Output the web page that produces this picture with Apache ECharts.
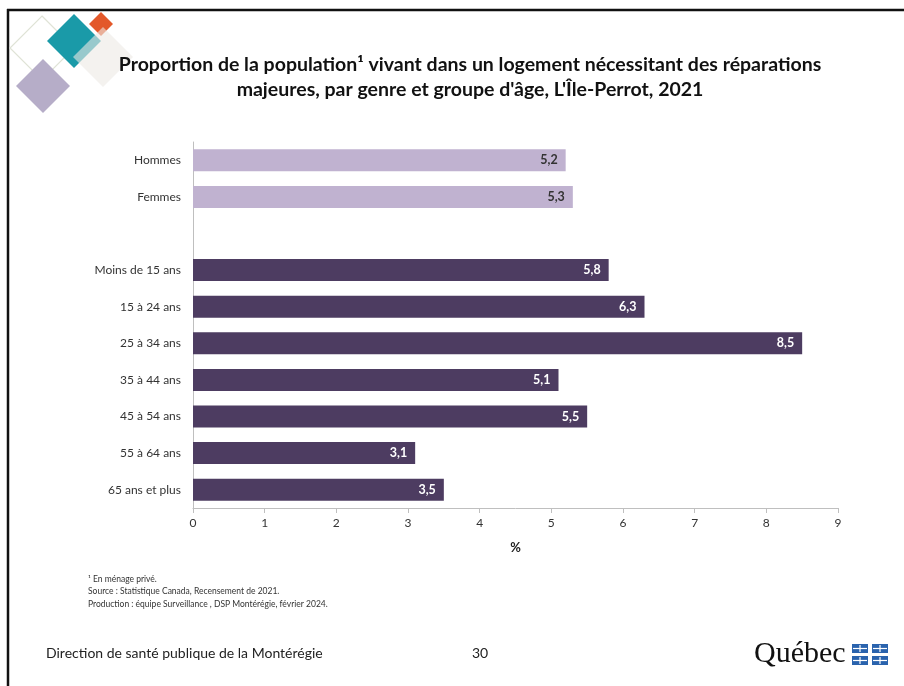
<!DOCTYPE html>
<html><head><meta charset="utf-8">
<script src="https://cdn.jsdelivr.net/npm/echarts@6/dist/echarts.min.js"></script>
<style>html,body{margin:0;padding:0;background:#fff}#c{width:904px;height:686px}</style>
</head><body><div id="c"></div>
<script>
const categories = ['Hommes','Femmes','','Moins de 15 ans','15 à 24 ans','25 à 34 ans','35 à 44 ans','45 à 54 ans','55 à 64 ans','65 ans et plus'];
const values = [5.2, 5.3, null, 5.8, 6.3, 8.5, 5.1, 5.5, 3.1, 3.5];
const groups = ['genre','genre','','age','age','age','age','age','age','age'];
const xTicks = [0,1,2,3,4,5,6,7,8,9];
const colorGenre = '#c0b2d0';
const colorAge = '#4d3c61';

const chart = echarts.init(document.getElementById('c'), null, {renderer:'canvas'});
const F = 'Lato, "Open Sans", sans-serif';
function diamond(cx, cy, r){ return [[cx,cy-r],[cx+r,cy],[cx,cy+r],[cx-r,cy]]; }
const graphics = [
  {type:'line', shape:{x1:7,y1:10,x2:904,y2:10}, style:{stroke:'#111',lineWidth:2.5}},
  {type:'line', shape:{x1:8,y1:9,x2:8,y2:686}, style:{stroke:'#111',lineWidth:2.5}},
  {type:'polygon', shape:{points:diamond(42,48,32)}, style:{fill:'none',stroke:'#dfe3d6',lineWidth:1.2}},
  {type:'polygon', shape:{points:diamond(43,86,27)}, style:{fill:'#b6adc8'}},
  {type:'polygon', shape:{points:diamond(74,41,27)}, style:{fill:'#1a9aa8'}},
  {type:'polygon', shape:{points:diamond(101,24,12)}, style:{fill:'#e3582a'}},
  {type:'polygon', shape:{points:diamond(103,57,30)}, style:{fill:'#ece9e5',opacity:0.6}},
  {type:'text', x:470, y:52, style:{text:'Proportion de la population¹ vivant dans un logement nécessitant des réparations\nmajeures, par genre et groupe d\'âge, L\'Île-Perrot, 2021', font:'bold 19.5px '+F, fill:'#111', align:'center', lineHeight:25}},
  {type:'text', left:88, top:573, style:{text:'¹ En ménage privé.\nSource : Statistique Canada, Recensement de 2021.\nProduction : équipe Surveillance , DSP Montérégie, février 2024.', font:'8.5px '+F, fill:'#333', lineHeight:12.5}},
  {type:'text', left:46, top:646, style:{text:'Direction de santé publique de la Montérégie', font:'14px '+F, fill:'#222'}},
  {type:'text', left:472, top:646, style:{text:'30', font:'14px '+F, fill:'#222'}},
  {type:'text', left:754, top:639, style:{text:'Québec', font:'30px "Liberation Serif", "DejaVu Serif", serif', fill:'#111'}},
];
// flags
[[852,644],[872,644],[852,656],[872,656]].forEach(p=>{
  graphics.push({type:'rect', shape:{x:p[0],y:p[1],width:16,height:9}, style:{fill:'#2a63ad'}});
  graphics.push({type:'line', shape:{x1:p[0]+8,y1:p[1]+1,x2:p[0]+8,y2:p[1]+8}, style:{stroke:'#fff',lineWidth:1.2}});
  graphics.push({type:'line', shape:{x1:p[0]+1,y1:p[1]+4.5,x2:p[0]+15,y2:p[1]+4.5}, style:{stroke:'#fff',lineWidth:1.2}});
});

chart.setOption({
  animation:false,
  backgroundColor:'#fff',
  grid:{left:193, right:66, top:142, bottom:178, containLabel:false},
  xAxis:{type:'value', min:0, max:9, interval:1,
    axisLine:{show:true, lineStyle:{color:'#bfbfbf'}},
    axisTick:{show:true, length:5, lineStyle:{color:'#bfbfbf'}},
    splitLine:{show:false},
    axisLabel:{color:'#333', fontFamily:F, fontSize:12, margin:9, formatter: v => xTicks.includes(v) ? String(v) : ''},
    name:'%', nameLocation:'middle', nameGap:33, nameTextStyle:{color:'#222', fontFamily:F, fontSize:13, fontWeight:'bold'}
  },
  yAxis:{type:'category', data:categories, inverse:true,
    axisLine:{show:true, lineStyle:{color:'#bfbfbf'}},
    axisTick:{show:false},
    axisLabel:{color:'#333', fontFamily:F, fontSize:12, margin:12}
  },
  series:[{
    type:'bar', barWidth:22,
    data: values.map((v,i)=>({value:v, itemStyle:{color: groups[i]==='genre'?colorGenre:colorAge}, label:{color: groups[i]==='genre'?'#333':'#fff'}})),
    label:{show:true, position:'insideRight', distance:8, fontFamily:F, fontSize:12.5, fontWeight:'bold',
      formatter: p => p.value==null ? '' : p.value.toFixed(1).replace('.',',')
    }
  }],
  graphic: graphics
});
</script></body></html>
